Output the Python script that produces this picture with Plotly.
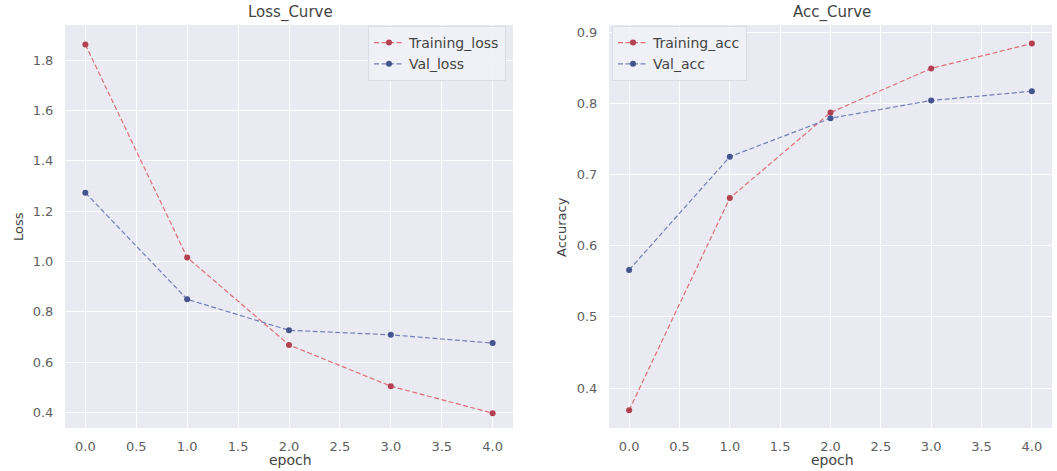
import plotly.graph_objects as go

epochs = [0, 1, 2, 3, 4]
training_loss = [1.862, 1.016, 0.669, 0.505, 0.398]
val_loss = [1.273, 0.850, 0.727, 0.709, 0.676]
training_acc = [0.369, 0.667, 0.787, 0.849, 0.884]
val_acc = [0.566, 0.725, 0.779, 0.804, 0.817]

x_ticks = [0, 0.5, 1, 1.5, 2, 2.5, 3, 3.5, 4]
loss_ticks = [0.4, 0.6, 0.8, 1.0, 1.2, 1.4, 1.6, 1.8]
acc_ticks = [0.4, 0.5, 0.6, 0.7, 0.8, 0.9]

W, H = 1057, 471
RED_LINE, RED_MK = "#de6e78", "#b3404e"
BLUE_LINE, BLUE_MK = "#7080b6", "#44548c"
FONT = "DejaVu Sans, Verdana, sans-serif"
TICK_COLOR = "#5f5f5f"
TEXT_COLOR = "#444444"

def px_x(p):
    return p / W

def px_y(p):
    return (H - p) / H

fig = go.Figure()

def add(x, y, name, lc, mc, xa, ya, leg):
    fig.add_trace(go.Scatter(
        x=x, y=y, name=name, mode="lines+markers",
        line=dict(color=lc, width=1.2, dash="5px,2.5px"),
        marker=dict(color=mc, size=6),
        xaxis=xa, yaxis=ya, legend=leg,
    ))

add(epochs, training_loss, "Training_loss", RED_LINE, RED_MK, "x", "y", "legend")
add(epochs, val_loss, "Val_loss", BLUE_LINE, BLUE_MK, "x", "y", "legend")
add(epochs, training_acc, "Training_acc", RED_LINE, RED_MK, "x2", "y2", "legend2")
add(epochs, val_acc, "Val_acc", BLUE_LINE, BLUE_MK, "x2", "y2", "legend2")

ydom = [px_y(428), px_y(25)]
axis_common = dict(
    showgrid=True, gridcolor="white", gridwidth=1, zeroline=False,
    showline=False, ticks="outside", tickcolor="rgba(0,0,0,0)",
    tickfont=dict(family=FONT, size=13, color=TICK_COLOR),
)

legend_common = dict(
    bgcolor="rgba(241,241,247,0.9)", bordercolor="#dcdce4", borderwidth=1,
    font=dict(family=FONT, size=14, color=TEXT_COLOR), itemwidth=30,
    tracegroupgap=0,
)

fig.update_layout(
    width=W, height=H,
    margin=dict(l=0, r=0, t=0, b=0),
    paper_bgcolor="white",
    plot_bgcolor="#EAEAF2",
    font=dict(family=FONT, color=TEXT_COLOR),
    xaxis=dict(domain=[px_x(65), px_x(513)], range=[-0.2, 4.2],
               tickvals=x_ticks, tickformat=".1f", ticklen=6, anchor="y", **axis_common),
    yaxis=dict(domain=ydom, range=[0.339, 1.939], tickvals=loss_ticks,
               tickformat=".1f", ticklen=8, anchor="x", **axis_common),
    xaxis2=dict(domain=[px_x(609), px_x(1052)], range=[-0.2, 4.2],
                tickvals=x_ticks, tickformat=".1f", ticklen=6, anchor="y2", **axis_common),
    yaxis2=dict(domain=ydom, range=[0.344, 0.910], tickvals=acc_ticks,
                tickformat=".1f", ticklen=8, anchor="x2", **axis_common),
    legend=dict(x=px_x(506), y=px_y(26), xanchor="right", yanchor="top", **legend_common),
    legend2=dict(x=px_x(612), y=px_y(26), xanchor="left", yanchor="top", **legend_common),
    showlegend=True,
)

annots = [
    dict(text="Loss_Curve", x=px_x(290), y=px_y(13), size=15),
    dict(text="Acc_Curve", x=px_x(832), y=px_y(13), size=15),
    dict(text="epoch", x=px_x(290), y=px_y(460), size=14),
    dict(text="epoch", x=px_x(832), y=px_y(460), size=14),
]
for a in annots:
    fig.add_annotation(text=a["text"], x=a["x"], y=a["y"], xref="paper", yref="paper",
                       showarrow=False, xanchor="center", yanchor="middle",
                       font=dict(family=FONT, size=a["size"], color=TEXT_COLOR))

fig.add_annotation(text="Loss", x=px_x(18), y=px_y(227), xref="paper", yref="paper",
                   showarrow=False, textangle=-90, xanchor="center", yanchor="middle",
                   font=dict(family=FONT, size=13, color=TEXT_COLOR))
fig.add_annotation(text="Accuracy", x=px_x(561), y=px_y(227), xref="paper", yref="paper",
                   showarrow=False, textangle=-90, xanchor="center", yanchor="middle",
                   font=dict(family=FONT, size=13, color=TEXT_COLOR))

fig.write_html(
    "out.html",
    config={"displayModeBar": False},
    post_script="document.body.style.margin='0';document.body.style.padding='0';"
                "document.body.style.overflow='hidden';",
)
